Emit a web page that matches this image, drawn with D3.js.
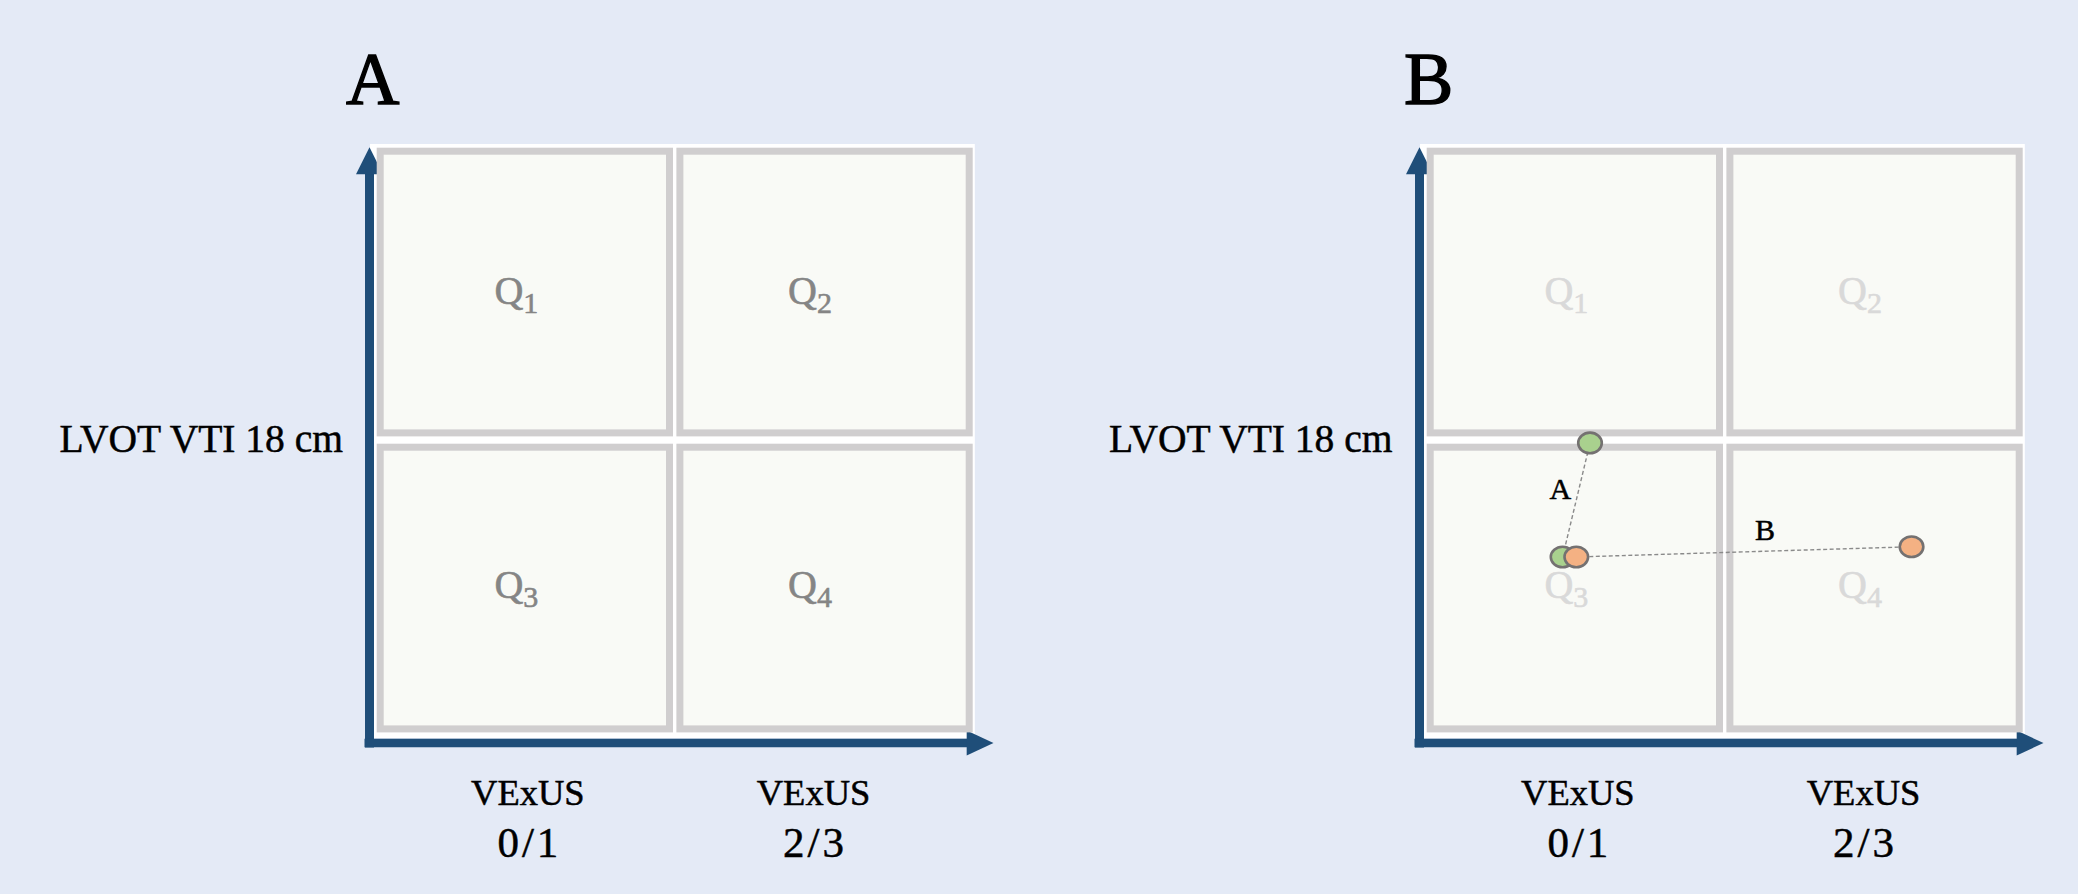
<!DOCTYPE html>
<html>
<head>
<meta charset="utf-8">
<script src="https://cdn.jsdelivr.net/npm/d3@7"></script>
<style>
  html, body { margin: 0; padding: 0; background: #e4eaf6; }
  svg { display: block; }
  text { font-family: "Liberation Serif", "Times New Roman", serif; }
</style>
</head>
<body>
<svg id="chart" width="2078" height="894"></svg>
<script>
// ---- data ----
const panelNames = ["A", "B"];
const columnKeys = ["0/1", "2/3"];
const columnTickLines = [["VExUS", "0/1"], ["VExUS", "2/3"]];
const rowKeys = ["above", "below"];
const quadrantNumbers = [["1", "2"], ["3", "4"]];
const thresholdLabel = "LVOT VTI 18 cm";
// Panel B patient trajectories (x: VExUS position, 0–2 across the two columns; y: LVOT VTI position, 1 = 18 cm)
const patientNames = ["A", "B"];
const vexusBefore = [0.456, 0.502];
const vtiBefore = [0.60, 0.60];
const vexusAfter = [0.548, 1.627];
const vtiAfter = [0.99, 0.635];

// ---- layout ----
const svg = d3.select("#chart");
const panelOffsets = [0, 1050];
const gx0 = 376.7, gx1 = 972.7, gy0 = 147.7, gy1 = 732.4;
const axisBlue = "#1f4e79";
const cellStroke = 7;

panelNames.forEach((name, pi) => {
  const ox = panelOffsets[pi];
  const g = svg.append("g");

  const xBand = d3.scaleBand().domain(columnKeys).range([gx0 + ox, gx1 + ox]).paddingInner(0.0113);
  const yBand = d3.scaleBand().domain(rowKeys).range([gy0, gy1]).paddingInner(0.0247);
  const xLin = d3.scaleLinear().domain([0, 2]).range([gx0 + ox, gx1 + ox]);
  const yLin = d3.scaleLinear().domain([0, 2]).range([gy1, gy0]);

  // white plot background
  g.append("rect")
    .attr("x", gx0 + ox - 6.7).attr("y", 144)
    .attr("width", gx1 - gx0 + 8.8).attr("height", 594)
    .attr("fill", "#ffffff");

  // axes with arrows
  const axX = gx0 + ox - 7.2;   // y-axis centre
  const axY = 743;              // x-axis centre
  g.append("line")
    .attr("x1", axX).attr("x2", axX).attr("y1", axY + 4.5).attr("y2", 172)
    .attr("stroke", axisBlue).attr("stroke-width", 9);
  g.append("path")
    .attr("d", `M${axX},147.3 L${axX - 13.5},174.3 L${axX + 13.5},174.3 Z`)
    .attr("fill", axisBlue);
  g.append("line")
    .attr("x1", axX - 5).attr("x2", gx1 + ox - 4).attr("y1", axY).attr("y2", axY)
    .attr("stroke", axisBlue).attr("stroke-width", 8.5);
  g.append("path")
    .attr("d", `M${gx1 + ox + 20.8},${axY} L${gx1 + ox - 6},${axY - 12.5} L${gx1 + ox - 6},${axY + 12.5} Z`)
    .attr("fill", axisBlue);

  // quadrant cells
  const cells = [];
  rowKeys.forEach((r, ri) => columnKeys.forEach((c, ci) => cells.push({ r, c, n: quadrantNumbers[ri][ci] })));
  g.selectAll("rect.cell").data(cells).join("rect")
    .attr("class", "cell")
    .attr("x", d => xBand(d.c) + cellStroke / 2)
    .attr("y", d => yBand(d.r) + cellStroke / 2)
    .attr("width", xBand.bandwidth() - cellStroke)
    .attr("height", yBand.bandwidth() - cellStroke)
    .attr("fill", "#f9faf6")
    .attr("stroke", "#d0cecf")
    .attr("stroke-width", cellStroke);

  // quadrant labels
  const qColor = pi === 0 ? "#858585" : "#d9d9d9";
  const qt = g.selectAll("text.q").data(cells).join("text")
    .attr("class", "q")
    .attr("x", (d, i) => xBand(d.c) + xBand.bandwidth() / 2 + (i % 2 === 0 ? -8.5 : -14.5))
    .attr("y", (d, i) => yBand(d.r) + yBand.bandwidth() / 2 + (i < 2 ? 11.5 : 10))
    .attr("text-anchor", "middle")
    .attr("fill", qColor)
    .attr("stroke", qColor).attr("stroke-width", 0.6)
    .attr("font-size", 40);
  qt.append("tspan").text("Q");
  qt.append("tspan").attr("font-size", 30).attr("dy", 9).text(d => d.n);

  // threshold label
  g.append("text")
    .attr("x", axX - 26.5 + (pi === 1 ? -0.5 : 0)).attr("y", 451.7)
    .attr("text-anchor", "end")
    .attr("font-size", 39.5)
    .attr("fill", "#000").attr("stroke", "#000").attr("stroke-width", 0.5)
    .text(thresholdLabel);

  // column tick labels
  const tickOff = [3, -11];
  columnKeys.forEach((c, ci) => {
    const cx = xBand(c) + xBand.bandwidth() / 2 + tickOff[ci];
    columnTickLines[ci].forEach((line, li) => {
      g.append("text")
        .attr("x", cx + (li === 1 ? 1.5 : 0)).attr("y", 805 + li * 52)
        .attr("text-anchor", "middle")
        .attr("font-size", li === 1 ? 43 : 36.5)
        .attr("letter-spacing", li === 1 ? 3 : 0)
        .attr("fill", "#000").attr("stroke", "#000").attr("stroke-width", 0.5)
        .text(line);
    });
  });

  // panel letter
  g.append("text")
    .attr("x", axX - 23.5 + (pi === 1 ? 8 : 0)).attr("y", 104)
    .attr("font-size", 74)
    .attr("fill", "#000").attr("stroke", "#000").attr("stroke-width", 1.4)
    .text(name);

  // patient trajectories (panel B only)
  if (pi === 1) {
    const pts = patientNames.map((p, k) => ({
      name: p,
      x0: vexusBefore[k], y0: vtiBefore[k],
      x1: vexusAfter[k], y1: vtiAfter[k]
    }));
    const fills = ["#a9d18e", "#f4b183"];
    g.selectAll("line.traj").data(pts).join("line")
      .attr("class", "traj")
      .attr("x1", d => xLin(d.x0)).attr("y1", d => yLin(d.y0))
      .attr("x2", d => xLin(d.x1)).attr("y2", d => yLin(d.y1))
      .attr("stroke", "#8a8a8a").attr("stroke-width", 1.4)
      .attr("stroke-dasharray", "4,2.5");
    const labelOff = [[-16, -1], [21, -12]];
    g.selectAll("text.pname").data(pts).join("text")
      .attr("class", "pname")
      .attr("x", (d, k) => (xLin(d.x0) + xLin(d.x1)) / 2 + labelOff[k][0])
      .attr("y", (d, k) => (yLin(d.y0) + yLin(d.y1)) / 2 + labelOff[k][1])
      .attr("text-anchor", "middle")
      .attr("font-size", 30)
      .attr("fill", "#000").attr("stroke", "#000").attr("stroke-width", 0.5)
      .text(d => d.name);
    const dots = [];
    pts.forEach((d, k) => dots.push({ x: d.x0, y: d.y0, f: fills[k] }));
    pts.forEach((d, k) => dots.push({ x: d.x1, y: d.y1, f: fills[k] }));
    g.selectAll("ellipse.pt").data(dots).join("ellipse")
      .attr("class", "pt")
      .attr("cx", d => xLin(d.x)).attr("cy", d => yLin(d.y))
      .attr("rx", 11.8).attr("ry", 10.3)
      .attr("fill", d => d.f)
      .attr("stroke", "#747171").attr("stroke-width", 2.6);
  }
});
</script>
</body>
</html>
